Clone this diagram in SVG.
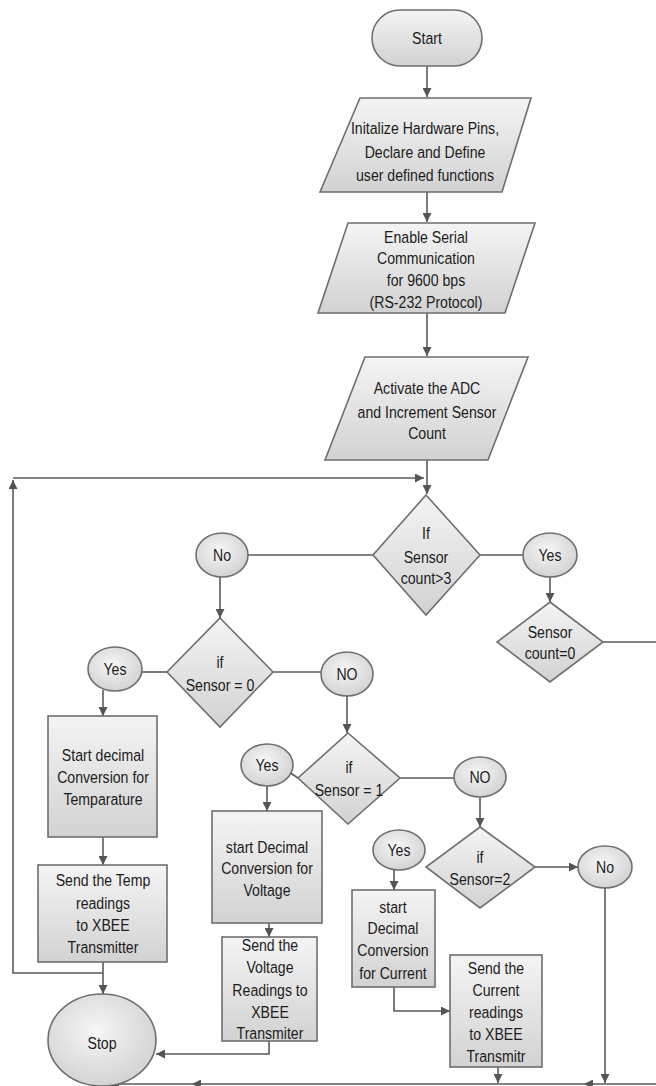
<svg xmlns="http://www.w3.org/2000/svg" width="656" height="1086" viewBox="0 0 656 1086">
<defs>
<linearGradient id="g" x1="0" y1="0" x2="0" y2="1">
<stop offset="0" stop-color="#f4f4f4"/>
<stop offset="1" stop-color="#d2d2d2"/>
</linearGradient>
<radialGradient id="rg" cx="0.45" cy="0.4" r="0.65">
<stop offset="0" stop-color="#f6f6f6"/>
<stop offset="1" stop-color="#d0d0d0"/>
</radialGradient>
<marker id="ah" viewBox="0 0 10 10" refX="10" refY="5" markerWidth="9" markerHeight="9" markerUnits="userSpaceOnUse" orient="auto">
<path d="M0,0 L10,5 L0,10 z" fill="#555"/>
</marker>
</defs>
<style>
.n{fill:url(#g);stroke:#6e6e6e;stroke-width:1.6}
.e{fill:url(#rg);stroke:#6e6e6e;stroke-width:1.6}
.c{fill:none;stroke:#5a5a5a;stroke-width:1.6}
.a{marker-end:url(#ah)}
text{font-family:"Liberation Sans",Arial,sans-serif;font-size:17px;fill:#1c1c1c;text-anchor:middle;dominant-baseline:central}
</style>
<rect width="656" height="1086" fill="#fff"/>

<g id="connectors">
<path class="c a" d="M427,66 V97"/>
<path class="c a" d="M427,192 V222"/>
<path class="c a" d="M427,313 V356"/>
<path class="c a" d="M427,460 V494"/>
<path class="c a" d="M103,973 H13 V480"/>
<path class="c a" d="M13,478 H424"/>
<path class="c" d="M248,555 H373"/>
<path class="c" d="M480,555 H523"/>
<path class="c a" d="M550,577 V602"/>
<path class="c" d="M603,642 H656"/>
<path class="c a" d="M220,577 V618"/>
<path class="c" d="M142,672 H167"/>
<path class="c a" d="M103,690 V716"/>
<path class="c a" d="M103,837 V865"/>
<path class="c a" d="M103,962 V994"/>
<path class="c" d="M273,672 H321"/>
<path class="c a" d="M347,695 V733"/>
<path class="c" d="M289,772 L298,778"/>
<path class="c a" d="M267,785 V811"/>
<path class="c a" d="M269,923 V937"/>
<path class="c a" d="M269,1041 V1054 H156"/>
<path class="c" d="M400,778 H454"/>
<path class="c a" d="M480,797 V827"/>
<path class="c a" d="M394,870 V890"/>
<path class="c a" d="M394,987 V1011 H450"/>
<path class="c a" d="M498,1067 V1083"/>
<path class="c a" d="M535,867 H578"/>
<path class="c a" d="M605,888 V1083"/>
<path class="c a" d="M656,1084 H584"/>
<path class="c a" d="M584,1084 H192"/>
<path class="c a" d="M192,1084 H110"/>
</g>

<g id="start">
<rect class="n" x="372" y="10" width="110" height="56" rx="28"/>
<g transform="matrix(0.83 0 0 1 72.59 0)"><text x="427" y="38">Start</text></g>
</g>
<g id="init">
<polygon class="n" points="360,98 531,98 502,192 320,192"/>
<g transform="matrix(0.83 0 0 1 72.25 0)">
<text x="425" y="128">Initalize Hardware Pins,</text>
<text x="425" y="152">Declare and Define</text>
<text x="425" y="175">user defined functions</text>
</g>
</g>
<g id="serial">
<polygon class="n" points="348,223 535,223 505,313 318,313"/>
<g transform="matrix(0.83 0 0 1 72.42 0)">
<text x="426" y="237">Enable Serial</text>
<text x="426" y="258">Communication</text>
<text x="426" y="280">for 9600 bps</text>
<text x="426" y="302">(RS-232 Protocol)</text>
</g>
</g>
<g id="adc">
<polygon class="n" points="365,357 528,357 488,460 325,460"/>
<g transform="matrix(0.83 0 0 1 72.59 0)">
<text x="427" y="388">Activate the ADC</text>
<text x="427" y="412">and Increment Sensor</text>
<text x="427" y="433">Count</text>
</g>
</g>
<g id="d-count">
<polygon class="n" points="426,495 480,555 426,615 373,555"/>
<g transform="matrix(0.83 0 0 1 72.42 0)">
<text x="426" y="533">If</text>
<text x="426" y="557">Sensor</text>
<text x="426" y="578">count&gt;3</text>
</g>
</g>
<g id="no1">
<ellipse class="e" cx="222" cy="555" rx="26" ry="22"/>
<g transform="matrix(0.83 0 0 1 37.74 0)"><text x="222" y="555">No</text></g>
</g>
<g id="yes1">
<ellipse class="e" cx="550" cy="555" rx="27" ry="22"/>
<g transform="matrix(0.83 0 0 1 93.5 0)"><text x="550" y="555">Yes</text></g>
</g>
<g id="d-reset">
<polygon class="n" points="550,602 603,642 550,682 497,642"/>
<g transform="matrix(0.83 0 0 1 93.5 0)">
<text x="550" y="632">Sensor</text>
<text x="550" y="653">count=0</text>
</g>
</g>
<g id="d-s0">
<polygon class="n" points="220,618 273,672 220,727 167,672"/>
<g transform="matrix(0.83 0 0 1 37.4 0)">
<text x="220" y="662">if</text>
<text x="220" y="685">Sensor = 0</text>
</g>
</g>
<g id="yes2">
<ellipse class="e" cx="115" cy="669" rx="27" ry="22"/>
<g transform="matrix(0.83 0 0 1 19.55 0)"><text x="115" y="669">Yes</text></g>
</g>
<g id="temp-conv">
<rect class="n" x="48" y="716" width="109" height="121"/>
<g transform="matrix(0.83 0 0 1 17.51 0)">
<text x="103" y="755">Start decimal</text>
<text x="103" y="777">Conversion for</text>
<text x="103" y="799">Temparature</text>
</g>
</g>
<g id="temp-send">
<rect class="n" x="38" y="865" width="129" height="97"/>
<g transform="matrix(0.83 0 0 1 17.51 0)">
<text x="103" y="880">Send the Temp</text>
<text x="103" y="903">readings</text>
<text x="103" y="925">to XBEE</text>
<text x="103" y="947">Transmitter</text>
</g>
</g>
<g id="stop">
<ellipse class="e" cx="102" cy="1040" rx="54" ry="46"/>
<g transform="matrix(0.83 0 0 1 17.34 0)"><text x="102" y="1043">Stop</text></g>
</g>
<g id="no2">
<ellipse class="e" cx="347" cy="674" rx="26" ry="22"/>
<g transform="matrix(0.83 0 0 1 58.99 0)"><text x="347" y="674">NO</text></g>
</g>
<g id="d-s1">
<polygon class="n" points="348,733 400,778 348,824 298,778"/>
<g transform="matrix(0.83 0 0 1 59.33 0)">
<text x="349" y="767">if</text>
<text x="349" y="790">Sensor = 1</text>
</g>
</g>
<g id="yes3">
<ellipse class="e" cx="267" cy="765" rx="26" ry="21"/>
<g transform="matrix(0.83 0 0 1 45.39 0)"><text x="267" y="765">Yes</text></g>
</g>
<g id="volt-conv">
<rect class="n" x="212" y="811" width="110" height="112"/>
<g transform="matrix(0.83 0 0 1 45.39 0)">
<text x="267" y="847">start Decimal</text>
<text x="267" y="868">Conversion for</text>
<text x="267" y="890">Voltage</text>
</g>
</g>
<g id="volt-send">
<rect class="n" x="222" y="937" width="95" height="104"/>
<g transform="matrix(0.83 0 0 1 45.9 0)">
<text x="270" y="945">Send the</text>
<text x="270" y="967">Voltage</text>
<text x="270" y="990">Readings to</text>
<text x="270" y="1012">XBEE</text>
<text x="270" y="1033">Transmiter</text>
</g>
</g>
<g id="no3">
<ellipse class="e" cx="480" cy="777" rx="26" ry="20"/>
<g transform="matrix(0.83 0 0 1 81.6 0)"><text x="480" y="777">NO</text></g>
</g>
<g id="d-s2">
<polygon class="n" points="480,827 535,867 480,908 426,867"/>
<g transform="matrix(0.83 0 0 1 81.6 0)">
<text x="480" y="857">if</text>
<text x="480" y="879">Sensor=2</text>
</g>
</g>
<g id="yes4">
<ellipse class="e" cx="399" cy="850" rx="26" ry="20"/>
<g transform="matrix(0.83 0 0 1 67.83 0)"><text x="399" y="850">Yes</text></g>
</g>
<g id="cur-conv">
<rect class="n" x="352" y="890" width="83" height="97"/>
<g transform="matrix(0.83 0 0 1 66.81 0)">
<text x="393" y="907">start</text>
<text x="393" y="928">Decimal</text>
<text x="393" y="950">Conversion</text>
<text x="393" y="973">for Current</text>
</g>
</g>
<g id="cur-send">
<rect class="n" x="450" y="955" width="92" height="112"/>
<g transform="matrix(0.83 0 0 1 84.32 0)">
<text x="496" y="968">Send the</text>
<text x="496" y="990">Current</text>
<text x="496" y="1012">readings</text>
<text x="496" y="1034">to XBEE</text>
<text x="496" y="1056">Transmitr</text>
</g>
</g>
<g id="no4">
<ellipse class="e" cx="605" cy="867" rx="27" ry="21"/>
<g transform="matrix(0.83 0 0 1 102.85 0)"><text x="605" y="867">No</text></g>
</g>
</svg>
